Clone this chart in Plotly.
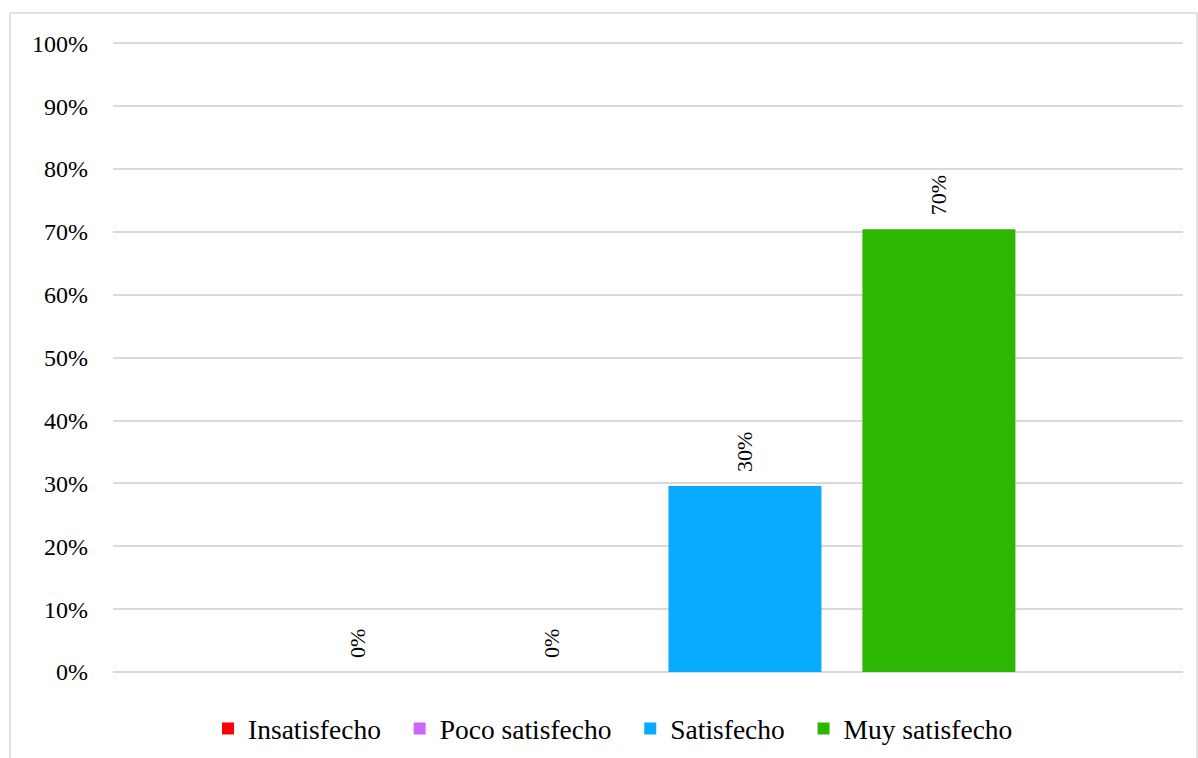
import plotly.graph_objects as go

# Survey satisfaction shares (fraction of respondents)
series_names = ["Insatisfecho", "Poco satisfecho", "Satisfecho", "Muy satisfecho"]
series_values = [0.0, 0.0, 0.296, 0.704]
series_colors = ["#FF0000", "#CC66FF", "#09ABFF", "#2CB802"]
category = [""]

y_ticks = [i / 10 for i in range(11)]

FONT = "'Liberation Serif', 'Times New Roman', 'DejaVu Serif', serif"
NBSP = "\u00a0"

fig = go.Figure()
for name, val, col in zip(series_names, series_values, series_colors):
    fig.add_trace(go.Bar(
        name=name + NBSP * 2,
        x=category,
        y=[val],
        marker=dict(color=col, line=dict(width=0)),
        texttemplate=NBSP * 2 + "%{y:.0%}",
        textposition="outside",
        textangle=-90,
        textfont=dict(family=FONT, size=22, color="#000000"),
        cliponaxis=False,
    ))

fig.update_layout(
    width=1198,
    height=758,
    margin=dict(l=113, r=15, t=42, b=86, autoexpand=False),
    paper_bgcolor="#FFFFFF",
    plot_bgcolor="#FFFFFF",
    barmode="group",
    bargap=0.275,
    bargroupgap=0.211,
    font=dict(family=FONT, color="#000000"),
    showlegend=True,
    legend=dict(
        orientation="h",
        x=0.0888, xanchor="left",
        y=-0.09, yanchor="middle",
        font=dict(family=FONT, size=27.5, color="#000000"),
        itemwidth=30,
        traceorder="normal",
    ),
    xaxis=dict(
        showticklabels=False,
        showgrid=False,
        zeroline=False,
        showline=False,
        ticks="",
    ),
    yaxis=dict(
        range=[0, 1.002],
        tickvals=y_ticks,
        tickformat=".0%",
        showgrid=True,
        gridcolor="#D9D9D9",
        gridwidth=1.5,
        zeroline=True,
        zerolinecolor="#D9D9D9",
        zerolinewidth=1.5,
        showline=False,
        ticks="",
        ticklabelstandoff=24,
        tickfont=dict(family=FONT, size=24, color="#000000"),
    ),
    shapes=[dict(
        type="rect", xref="paper", yref="paper",
        x0=-0.0963, x1=1.0131, y0=-0.15, y1=1.046,
        line=dict(color="#D9D9D9", width=1.5),
        fillcolor="rgba(0,0,0,0)",
        layer="below",
    )],
)

fig.write_html("out.html")
